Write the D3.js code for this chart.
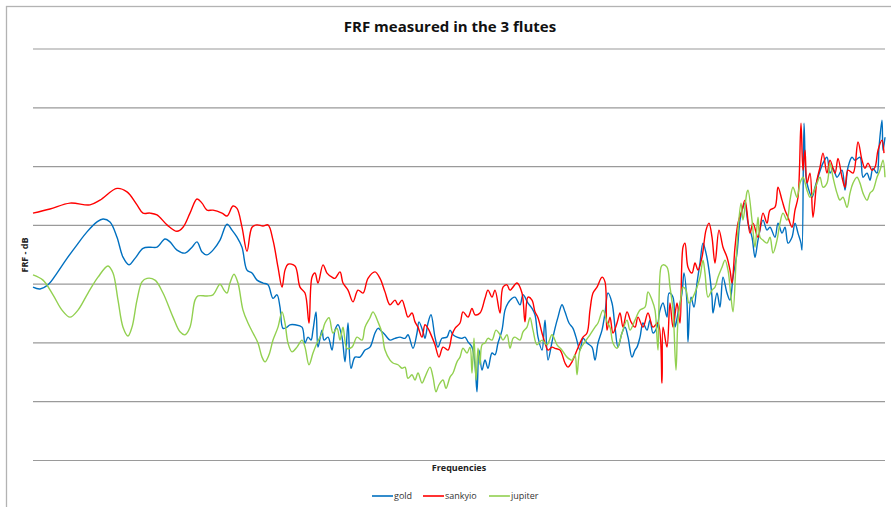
<!DOCTYPE html>
<html>
<head>
<meta charset="utf-8">
<script src="https://cdn.jsdelivr.net/npm/d3@7"></script>
<style>
  body { margin: 0; background: #fff; }
  svg { display: block; font-family: "Open Sans", "Noto Sans", sans-serif; }
</style>
</head>
<body>
<svg id="chart" width="891" height="507"></svg>
<script>
// frequency (Hz) / FRF (dB) pairs
var gold = [[0,29.4],[35,29.1],[75,29.8],[120,31.8],[170,34.3],[220,36.6],[270,38.8],[320,40.5],[350,41.0],[385,40.5],[420,37.9],[450,34.5],[480,33.2],[510,34.3],[550,36.0],[585,36.2],[620,36.2],[660,37.6],[685,37.1],[720,35.7],[760,35.2],[795,36.2],[820,37.1],[845,35.4],[870,34.9],[900,35.7],[935,37.4],[970,40.1],[995,39.1],[1020,37.9],[1045,36.2],[1070,32.3],[1095,31.8],[1120,30.6],[1150,30.1],[1175,29.8],[1200,27.5],[1220,28.1],[1235,26.0],[1250,22.4],[1270,22.6],[1285,23.0],[1310,23.0],[1345,22.6],[1360,19.9],[1375,20.9],[1390,20.4],[1400,22.1],[1415,25.2],[1425,19.2],[1445,22.1],[1455,20.4],[1475,20.9],[1495,18.7],[1510,22.1],[1525,23.0],[1545,20.9],[1560,16.7],[1575,23.3],[1590,15.6],[1610,17.5],[1635,17.5],[1660,18.7],[1685,19.2],[1710,21.6],[1725,22.4],[1745,21.8],[1760,21.3],[1785,20.4],[1810,20.7],[1835,20.9],[1860,20.7],[1875,21.3],[1900,19.0],[1920,21.6],[1930,23.5],[1950,21.8],[1960,20.7],[1975,23.3],[1990,24.7],[2010,20.9],[2025,19.2],[2045,20.7],[2070,20.9],[2085,22.1],[2100,21.3],[2120,20.9],[2145,20.7],[2160,20.9],[2175,20.1],[2195,19.2],[2210,16.2],[2220,11.6],[2230,18.7],[2245,15.3],[2260,17.0],[2275,15.6],[2295,18.2],[2310,17.9],[2325,19.9],[2345,22.1],[2360,25.5],[2375,26.7],[2395,27.5],[2410,27.7],[2435,26.4],[2450,28.1],[2475,26.7],[2495,25.8],[2510,24.7],[2525,20.9],[2545,18.7],[2560,23.8],[2575,17.0],[2595,20.1],[2610,22.4],[2625,24.3],[2645,26.4],[2660,25.2],[2680,23.3],[2700,22.4],[2715,20.9],[2735,18.7],[2750,20.7],[2770,19.9],[2795,19.2],[2810,17.0],[2825,19.9],[2845,22.1],[2860,25.0],[2875,28.4],[2895,26.7],[2910,22.6],[2925,19.2],[2945,21.6],[2960,22.6],[2975,20.9],[2995,17.5],[3010,18.7],[3020,19.2],[3035,20.9],[3050,23.3],[3070,22.1],[3085,23.8],[3100,21.6],[3120,22.6],[3135,25.5],[3150,26.7],[3170,24.3],[3180,28.4],[3200,27.7],[3210,22.6],[3225,25.0],[3245,28.4],[3255,31.8],[3270,26.7],[3275,20.1],[3290,27.7],[3305,26.0],[3320,30.1],[3335,33.5],[3350,36.9],[3365,35.2],[3380,32.3],[3395,27.7],[3400,25.0],[3420,28.4],[3435,26.0],[3450,31.1],[3470,28.4],[3485,27.2],[3500,31.1],[3520,35.2],[3535,40.8],[3550,43.0],[3560,43.7],[3575,40.3],[3595,37.9],[3610,34.5],[3625,37.4],[3650,40.8],[3670,39.1],[3685,39.6],[3710,37.9],[3725,40.3],[3745,38.6],[3760,39.6],[3775,36.9],[3795,37.9],[3810,40.3],[3825,38.6],[3840,36.9],[3845,35.7],[3855,57.3],[3865,48.1],[3875,46.4],[3895,44.7],[3910,46.4],[3925,48.1],[3950,50.5],[3970,51.5],[3985,48.8],[4000,49.6],[4020,48.1],[4045,49.3],[4060,45.9],[4075,49.8],[4095,51.5],[4110,51.0],[4135,51.5],[4150,48.1],[4170,48.8],[4185,47.6],[4200,49.6],[4220,48.8],[4230,53.2],[4245,57.8],[4250,52.7],[4260,54.9]];

var sankyio = [[0,42.0],[85,42.7],[185,43.7],[285,43.4],[335,44.2],[420,46.2],[470,45.6],[520,43.4],[550,42.0],[585,42.0],[620,41.7],[670,40.0],[720,38.9],[750,39.6],[785,42.0],[820,44.4],[845,43.7],[870,42.5],[900,42.5],[945,42.0],[970,41.5],[1000,43.2],[1020,42.8],[1045,39.6],[1070,35.5],[1095,39.6],[1120,40.0],[1150,39.8],[1175,40.0],[1200,37.4],[1225,32.8],[1245,29.4],[1260,32.3],[1275,33.3],[1310,33.0],[1335,29.4],[1360,28.4],[1380,23.3],[1395,31.1],[1410,31.8],[1425,30.1],[1450,33.2],[1470,31.8],[1495,31.1],[1510,30.9],[1535,32.0],[1550,30.1],[1575,28.9],[1600,26.9],[1625,28.9],[1650,28.4],[1675,30.9],[1710,32.0],[1735,30.9],[1760,28.6],[1785,26.4],[1810,27.2],[1825,26.4],[1845,27.2],[1860,25.8],[1875,24.3],[1895,25.0],[1910,23.5],[1925,22.6],[1945,20.9],[1960,23.0],[1975,22.4],[1995,20.9],[2010,19.6],[2030,17.5],[2050,19.2],[2075,18.7],[2095,21.3],[2110,22.4],[2135,23.3],[2150,25.2],[2175,24.3],[2195,25.8],[2210,24.7],[2235,25.0],[2260,27.5],[2275,28.9],[2295,27.7],[2310,28.9],[2335,25.0],[2350,29.4],[2370,29.8],[2385,28.9],[2420,30.1],[2445,28.4],[2460,23.5],[2475,27.7],[2495,27.2],[2510,25.2],[2525,24.2],[2545,21.6],[2560,19.9],[2575,18.7],[2595,19.2],[2610,19.0],[2635,18.7],[2660,16.5],[2675,15.8],[2695,16.7],[2720,18.7],[2735,19.9],[2750,20.9],[2770,21.6],[2785,25.5],[2800,28.4],[2820,29.4],[2845,31.1],[2860,30.3],[2870,22.1],[2885,24.3],[2900,21.6],[2920,23.3],[2935,25.0],[2950,22.6],[2970,25.2],[2990,23.5],[3010,22.6],[3025,24.3],[3050,22.6],[3075,25.0],[3100,22.6],[3125,23.3],[3145,13.1],[3150,22.6],[3170,19.2],[3185,26.7],[3200,22.6],[3220,26.7],[3235,23.3],[3250,36.2],[3260,36.9],[3275,32.8],[3295,31.8],[3310,33.5],[3325,32.3],[3345,34.5],[3365,39.1],[3380,40.3],[3395,37.9],[3410,33.5],[3430,39.1],[3450,36.2],[3470,34.5],[3485,32.3],[3495,30.1],[3510,36.2],[3525,40.3],[3545,42.5],[3560,44.2],[3585,38.6],[3600,40.3],[3625,37.9],[3650,42.0],[3670,40.3],[3685,42.5],[3710,43.0],[3725,46.4],[3745,44.2],[3760,42.5],[3775,41.3],[3795,39.6],[3810,42.5],[3825,44.7],[3840,57.3],[3850,49.3],[3860,52.7],[3870,47.1],[3885,48.8],[3900,41.3],[3920,47.6],[3935,49.8],[3950,52.2],[3970,48.8],[3985,51.0],[4010,48.8],[4025,51.3],[4045,48.1],[4060,46.4],[4075,49.3],[4100,48.8],[4125,54.1],[4145,51.0],[4160,49.6],[4175,50.5],[4195,49.3],[4210,49.8],[4225,52.7],[4245,54.4],[4255,52.2]];

var jupiter = [[0,31.5],[50,30.6],[100,28.1],[145,25.5],[185,24.3],[225,25.5],[275,28.4],[325,31.1],[375,33.0],[400,31.8],[425,27.2],[450,22.6],[475,21.1],[495,22.6],[520,27.2],[545,30.3],[570,30.9],[610,30.6],[650,28.4],[700,24.3],[735,21.8],[760,21.3],[785,22.6],[810,27.2],[825,27.9],[870,27.9],[900,28.1],[935,29.9],[955,28.9],[970,28.4],[985,30.1],[1005,31.6],[1025,30.1],[1050,25.5],[1075,23.3],[1100,21.6],[1125,19.9],[1145,17.5],[1160,16.7],[1180,17.9],[1200,20.4],[1225,22.6],[1245,25.2],[1260,23.3],[1275,19.9],[1295,18.4],[1320,19.2],[1345,20.4],[1360,19.2],[1380,16.2],[1400,18.2],[1420,19.9],[1445,21.6],[1460,23.3],[1480,24.2],[1500,21.6],[1520,22.4],[1535,20.4],[1550,22.6],[1570,19.0],[1595,19.2],[1620,20.9],[1645,20.4],[1660,22.6],[1685,24.2],[1700,25.2],[1725,23.5],[1745,21.6],[1760,18.7],[1785,17.0],[1800,16.5],[1825,16.2],[1845,15.6],[1860,15.8],[1875,13.9],[1895,14.5],[1910,13.6],[1925,14.8],[1945,13.1],[1960,14.1],[1985,15.8],[2000,14.1],[2015,11.6],[2030,12.8],[2050,13.6],[2065,12.2],[2085,14.1],[2100,14.8],[2120,16.7],[2135,17.5],[2150,19.0],[2170,18.2],[2185,19.2],[2195,14.8],[2205,20.7],[2215,13.6],[2225,19.0],[2235,16.2],[2245,19.6],[2260,19.9],[2275,20.7],[2295,20.4],[2315,22.1],[2335,21.3],[2350,20.4],[2370,21.3],[2385,19.0],[2400,20.7],[2410,20.9],[2435,20.4],[2450,21.8],[2470,22.6],[2485,24.2],[2500,22.1],[2520,19.6],[2545,20.4],[2570,19.6],[2595,21.3],[2620,19.6],[2645,18.7],[2670,17.5],[2695,17.0],[2710,17.9],[2720,14.5],[2735,18.7],[2760,20.1],[2785,21.3],[2810,22.6],[2825,23.3],[2850,25.5],[2870,23.5],[2885,22.6],[2900,19.9],[2920,19.0],[2945,21.6],[2970,23.8],[2985,22.1],[3010,23.8],[3035,25.5],[3060,26.0],[3075,28.6],[3095,27.2],[3110,25.5],[3125,18.7],[3140,32.8],[3150,33.2],[3170,32.8],[3185,29.4],[3200,25.5],[3215,15.3],[3225,23.8],[3240,27.7],[3250,29.4],[3265,28.9],[3280,26.7],[3300,27.7],[3320,29.4],[3335,31.1],[3350,34.0],[3360,31.8],[3375,27.7],[3395,28.9],[3410,29.4],[3425,31.1],[3445,32.8],[3460,34.0],[3475,32.3],[3490,27.7],[3500,25.2],[3515,33.5],[3525,39.1],[3540,43.7],[3550,40.8],[3570,45.6],[3575,45.9],[3595,40.8],[3610,36.2],[3625,41.3],[3635,37.9],[3650,37.4],[3670,36.9],[3685,37.9],[3700,35.2],[3720,37.4],[3735,40.3],[3750,42.0],[3770,40.8],[3785,44.2],[3800,46.4],[3820,44.7],[3835,47.1],[3850,48.1],[3870,45.9],[3885,44.7],[3900,45.4],[3920,47.1],[3935,48.1],[3950,46.4],[3970,47.1],[3985,50.5],[4000,48.1],[4020,45.4],[4035,44.2],[4050,44.7],[4070,43.0],[4085,45.4],[4100,47.1],[4120,48.1],[4135,47.1],[4150,45.4],[4170,44.2],[4185,45.4],[4200,45.9],[4220,48.1],[4235,49.3],[4250,51.0],[4260,48.1]];

var seriesNames = ['gold', 'sankyio', 'jupiter'];
var seriesColors = ['#0070c0', '#ff0000', '#92d050'];
var yTicks = [0, 10, 20, 30, 40, 50, 60, 70];
var freqRange = [0, 4260];

var svg = d3.select('#chart');

// outer chart frame
svg.append('rect')
   .attr('x', 6.5).attr('y', 6.5)
   .attr('width', 920).attr('height', 540)
   .attr('fill', '#fff')
   .attr('stroke', '#b3b3b3')
   .attr('stroke-width', 1.3);

var x = d3.scaleLinear().domain(freqRange).range([33, 885]);
var y = d3.scaleLinear().domain([0, 70]).range([460, 48.5]);

// horizontal gridlines
svg.append('g')
   .attr('transform', 'translate(33,0)')
   .call(d3.axisLeft(y).tickValues(yTicks).tickSize(-852).tickFormat(''))
   .call(function(g) { g.select('.domain').remove(); })
   .selectAll('line')
   .attr('stroke', '#9a9a9a')
   .attr('stroke-width', 1.2);

var line = d3.line()
   .x(function(d) { return x(d[0]); })
   .y(function(d) { return y(d[1]); })
   .curve(d3.curveCatmullRom.alpha(0.5));

var allSeries = [gold, sankyio, jupiter];
// draw order: gold, sankyio, jupiter like the source
svg.append('g')
   .selectAll('path')
   .data(allSeries)
   .enter()
   .append('path')
   .attr('d', line)
   .attr('fill', 'none')
   .attr('stroke', function(d, i) { return seriesColors[i]; })
   .attr('stroke-width', 1.4)
   .attr('stroke-linejoin', 'round');

// title
svg.append('text')
   .attr('x', 450).attr('y', 32)
   .attr('text-anchor', 'middle')
   .style('font-size', '15px')
   .style('font-weight', 'bold')
   .attr('fill', '#111')
   .text('FRF measured in the 3 flutes');

// axis titles
svg.append('text')
   .attr('transform', 'translate(28,255) rotate(-90)')
   .attr('text-anchor', 'middle')
   .style('font-size', '9px')
   .style('font-weight', 'bold')
   .attr('fill', '#222')
   .text('FRF - dB');

svg.append('text')
   .attr('x', 459).attr('y', 471)
   .attr('text-anchor', 'middle')
   .style('font-size', '9px')
   .style('font-weight', 'bold')
   .attr('fill', '#222')
   .text('Frequencies');

// legend
var legendX = [372, 423, 489];
var legend = svg.append('g')
   .selectAll('g')
   .data(seriesNames)
   .enter()
   .append('g')
   .attr('transform', function(d, i) { return 'translate(' + legendX[i] + ',496)'; });

legend.append('line')
   .attr('x1', 0).attr('x2', 21)
   .attr('stroke', function(d, i) { return seriesColors[i]; })
   .attr('stroke-width', 1.6);

legend.append('text')
   .attr('x', 22).attr('y', 3)
   .style('font-size', '9px')
   .attr('fill', '#333')
   .text(function(d) { return d; });
</script>
</body>
</html>
